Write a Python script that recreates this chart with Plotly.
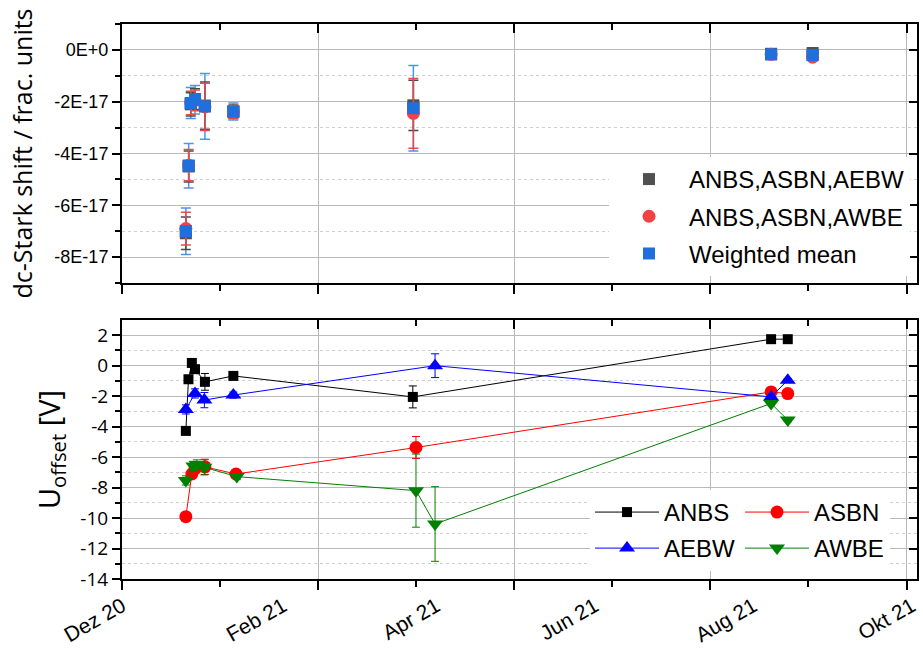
import plotly.graph_objects as go
from datetime import datetime, timedelta

# ---------------- dc-Stark shift (fractional units) ----------------
stark_dates = ["2020-12-25 10:00", "2020-12-26 12:00", "2020-12-27 07:00",
               "2020-12-28 22:00", "2021-01-01 17:00", "2021-01-12 14:00",
               "2021-03-22 10:00", "2021-08-06 05:00", "2021-08-22 02:00"]
stark_aebw = [-7.08e-17, -4.50e-17, -2.10e-17, -1.90e-17, -2.15e-17,
              -2.38e-17, -2.14e-17, -0.15e-17, -0.12e-17]
stark_aebw_err = [0.63e-17, 0.60e-17, 0.45e-17, 0.40e-17, 0.91e-17,
                  0.25e-17, 0.97e-17, 0.05e-17, 0.05e-17]
stark_awbe = [-6.90e-17, -4.45e-17, -2.05e-17, -1.95e-17, -2.20e-17,
              -2.40e-17, -2.45e-17, -0.17e-17, -0.28e-17]
stark_awbe_err = [0.63e-17, 0.60e-17, 0.45e-17, 0.40e-17, 0.91e-17,
                  0.25e-17, 1.35e-17, 0.05e-17, 0.05e-17]
stark_mean = [-7.00e-17, -4.47e-17, -2.05e-17, -1.92e-17, -2.18e-17,
              -2.38e-17, -2.25e-17, -0.17e-17, -0.20e-17]
stark_mean_err = [0.90e-17, 0.86e-17, 0.60e-17, 0.55e-17, 1.27e-17,
                  0.33e-17, 1.65e-17, 0.08e-17, 0.08e-17]

# ---------------- offset voltages [V] ----------------
anbs_dates = ["2020-12-25 10:00", "2020-12-26 10:00", "2020-12-27 17:00",
              "2020-12-28 22:00", "2021-01-01 17:00", "2021-01-12 14:00",
              "2021-03-22 05:00", "2021-08-06 05:00", "2021-08-12 14:00"]
anbs_u = [-4.28, -0.89, 0.18, -0.23, -1.06, -0.67, -2.05, 1.74, 1.74]
anbs_err = [0.15, 0.15, 0.15, 0.15, 0.55, 0.2, 0.72, 0.1, 0.1]

asbn_dates = ["2020-12-25 10:00", "2020-12-27 17:00", "2020-12-28 22:00",
              "2021-01-01 17:00", "2021-01-13 14:00", "2021-03-23 10:00",
              "2021-08-06 05:00", "2021-08-12 14:00"]
asbn_u = [-9.91, -7.11, -6.75, -6.64, -7.11, -5.37, -1.72, -1.83]
asbn_err = [0.2, 0.2, 0.2, 0.5, 0.2, 0.72, 0.1, 0.1]

aebw_dates = ["2020-12-25 10:00", "2020-12-28 22:00", "2021-01-01 12:00",
              "2021-01-12 14:00", "2021-03-30 17:00", "2021-08-06 05:00",
              "2021-08-12 14:00"]
aebw_u = [-2.87, -1.82, -2.26, -1.93, 0.0, -2.05, -0.95]
aebw_err = [0.3, 0.3, 0.5, 0.2, 0.78, 0.1, 0.1]

awbe_dates = ["2020-12-25 10:00", "2020-12-28 07:00", "2020-12-29 14:00",
              "2021-01-01 12:00", "2021-01-13 22:00", "2021-03-23 10:00",
              "2021-03-30 17:00", "2021-08-06 05:00", "2021-08-12 14:00"]
awbe_u = [-7.53, -6.58, -6.48, -6.67, -7.28, -8.2, -10.39, -2.48, -3.57]
awbe_err = [0.3, 0.3, 0.3, 0.5, 0.2, 2.4, 2.45, 0.1, 0.1]

# ---------------- axes ----------------
x_start = datetime(2020, 12, 1)
x_end = datetime(2021, 10, 1)
major_days = [0, 75, 150, 225, 300]
minor_days = [37.5, 112.5, 187.5, 262.5]
month_label_dates = ["2020-12-01", "2021-02-01", "2021-04-01",
                     "2021-06-01", "2021-08-01", "2021-10-01"]
month_labels = ["Dez 20", "Feb 21", "Apr 21", "Jun 21", "Aug 21", "Okt 21"]

stark_ticks = [0, -2e-17, -4e-17, -6e-17, -8e-17]
stark_tick_text = ["0E+0", "-2E-17", "-4E-17", "-6E-17", "-8E-17"]
stark_minor = [1e-17, -1e-17, -3e-17, -5e-17, -7e-17, -9e-17]
stark_range = [-9e-17, 1e-17]

u_ticks = list(range(2, -15, -2))
u_tick_text = [str(v) for v in u_ticks]
u_minor = list(range(1, -14, -2))
u_range = [-14, 3]

SANS = "Liberation Sans, Arial, sans-serif"
ROUND = "Open Sans, Liberation Sans, sans-serif"
GRID = "#b9b9b9"
MINOR_GRID = "#cfcfcf"

major_x = [x_start + timedelta(days=d) for d in major_days]
minor_x = [x_start + timedelta(days=d) for d in minor_days]
x_range = [x_start, x_end]
# month labels: axis runs a little past the frame so "Okt 21" stays on the page
label_range = [x_start, x_end + timedelta(days=2)]

fig = go.Figure()

# upper panel: weighted mean drawn first so the two partial results' bars sit above it
fig.add_trace(go.Scatter(
    x=stark_dates, y=stark_mean, mode="markers", name="Weighted mean",
    marker=dict(symbol="square", size=12, color="#1f6fdc"),
    error_y=dict(type="data", array=stark_mean_err, color="#4f93e6",
                 thickness=1.5, width=5),
    legend="legend", legendrank=3, legendgroup="mean",
    xaxis="x", yaxis="y"))
fig.add_trace(go.Scatter(
    x=stark_dates, y=stark_aebw, mode="markers", name="ANBS,ASBN,AEBW",
    marker=dict(symbol="square", size=12, color="#505050"),
    error_y=dict(type="data", array=stark_aebw_err, color="#4a4a4a",
                 thickness=1.5, width=5),
    legend="legend", legendrank=1, legendgroup="aebw",
    xaxis="x", yaxis="y"))
fig.add_trace(go.Scatter(
    x=stark_dates, y=stark_awbe, mode="markers", name="ANBS,ASBN,AWBE",
    marker=dict(symbol="circle", size=13, color="#f04444"),
    error_y=dict(type="data", array=stark_awbe_err, color="#e84a4a",
                 thickness=1.5, width=5),
    legend="legend", legendrank=2, legendgroup="awbe",
    xaxis="x", yaxis="y"))
fig.add_trace(go.Scatter(
    x=stark_dates, y=stark_mean, mode="markers", showlegend=False,
    marker=dict(symbol="square", size=12, color="#1f6fdc"),
    hoverinfo="skip", xaxis="x", yaxis="y"))

# lower panel: offset voltages per electrode configuration
series = [
    ("ANBS", anbs_dates, anbs_u, anbs_err, "black", "square", 10, "legend2"),
    ("ASBN", asbn_dates, asbn_u, asbn_err, "#ff0000", "circle", 13, "legend2"),
    ("AEBW", aebw_dates, aebw_u, aebw_err, "#0000ff", "triangle-up", 14, "legend3"),
    ("AWBE", awbe_dates, awbe_u, awbe_err, "#008000", "triangle-down", 14, "legend3"),
]
for name, xs, ys, es, col, sym, size, leg in series:
    fig.add_trace(go.Scatter(
        x=xs, y=ys, mode="lines+markers", name=name,
        line=dict(color=col, width=1),
        marker=dict(symbol=sym, size=size, color=col),
        error_y=dict(type="data", array=es, color=col, thickness=1, width=4),
        legend=leg, xaxis="x2", yaxis="y2"))

# empty traces so the frame axes (top / right / date labels) get drawn
for xa, ya in [("x3", "y"), ("x4", "y2"), ("x5", "y2"), ("x", "y3"), ("x2", "y4")]:
    fig.add_trace(go.Scatter(x=[x_start], y=[None], mode="markers",
                             showlegend=False, hoverinfo="skip",
                             xaxis=xa, yaxis=ya))

axis_line = dict(showline=True, linecolor="black", linewidth=2, zeroline=False)

x_grid_axis = dict(
    type="date", range=x_range, tickmode="array", tickvals=major_x,
    showticklabels=False, ticks="outside", ticklen=9, tickwidth=1.5,
    tickcolor="black", showgrid=True, gridcolor=GRID, gridwidth=1,
    minor=dict(tickmode="array", tickvals=minor_x, ticks="outside",
               ticklen=6, tickwidth=1.5, tickcolor="black", showgrid=False),
    **axis_line)
x_top_axis = dict(
    type="date", range=x_range, tickmode="array", tickvals=major_x,
    showticklabels=False, ticks="inside", ticklen=9, tickwidth=1.5,
    tickcolor="black", showgrid=False, side="top",
    minor=dict(tickmode="array", tickvals=minor_x, ticks="inside",
               ticklen=6, tickwidth=1.5, tickcolor="black", showgrid=False),
    **axis_line)


def y_axis(rng, vals, text, minor_vals, font, domain):
    return dict(
        range=rng, domain=domain, tickmode="array", tickvals=vals,
        ticktext=text, ticks="outside", ticklen=8, tickwidth=1.5,
        tickcolor="black", showgrid=True, gridcolor=GRID, gridwidth=1.3,
        tickfont=font,
        minor=dict(tickmode="array", tickvals=minor_vals, ticks="outside",
                   ticklen=5, tickwidth=1.5, tickcolor="black",
                   showgrid=True, gridcolor=MINOR_GRID, griddash="dot",
                   gridwidth=1),
        **axis_line)


def y_right(rng, vals):
    return dict(range=rng, tickmode="array", tickvals=vals,
                showticklabels=False, ticks="inside", ticklen=8,
                tickwidth=1.5, tickcolor="black", showgrid=False,
                side="right", **axis_line)


top_domain = [0.5333, 1.0]
bot_domain = [0.0, 0.4667]

legend_font = dict(family=SANS, size=24)

fig.update_layout(
    width=923, height=660,
    margin=dict(l=122, r=6, t=24, b=81, autoexpand=False),
    paper_bgcolor="white", plot_bgcolor="white",
    font=dict(family=SANS, color="black"),
    xaxis=dict(anchor="y", **x_grid_axis),
    xaxis2=dict(anchor="y2", **x_grid_axis),
    xaxis3=dict(anchor="y", overlaying="x", **x_top_axis),
    xaxis4=dict(anchor="y2", overlaying="x2", **x_top_axis),
    xaxis5=dict(anchor="y2", overlaying="x2", type="date", range=label_range,
                tickmode="array", tickvals=month_label_dates,
                ticktext=month_labels, ticks="", showgrid=False,
                showline=False, zeroline=False, tickangle=-30,
                ticklabelstandoff=10, ticklabeloverflow="allow",
                automargin=False,
                tickfont=dict(family=SANS, size=21)),
    yaxis=dict(anchor="x",
               title=dict(text="dc-Stark shift / frac. units",
                          font=dict(family=ROUND, size=25), standoff=15),
               **y_axis(stark_range, stark_ticks, stark_tick_text,
                        stark_minor, dict(family=SANS, size=18),
                        top_domain)),
    yaxis2=dict(anchor="x2",
                title=dict(text="U<sub>offset</sub> [V]",
                           font=dict(family=ROUND, size=29), standoff=11),
                **y_axis(u_range, u_ticks, u_tick_text, u_minor,
                         dict(family=ROUND, size=19), bot_domain)),
    yaxis3=dict(anchor="x", overlaying="y", **y_right(stark_range, stark_ticks)),
    yaxis4=dict(anchor="x2", overlaying="y2", **y_right(u_range, u_ticks)),
    legend=dict(x=0.6126, y=0.7604, xanchor="left", yanchor="top",
                bgcolor="white", borderwidth=0, itemwidth=70,
                font=legend_font, traceorder="grouped", tracegroupgap=3),
    legend2=dict(x=0.5887, y=0.1604, xanchor="left", yanchor="top",
                 orientation="h", entrywidth=71, bgcolor="white",
                 borderwidth=0, itemwidth=64, font=legend_font),
    legend3=dict(x=0.5887, y=0.0955, xanchor="left", yanchor="top",
                 orientation="h", entrywidth=71, bgcolor="white",
                 borderwidth=0, itemwidth=64, font=legend_font),
    showlegend=True,
)

fig.write_html("out.html")
